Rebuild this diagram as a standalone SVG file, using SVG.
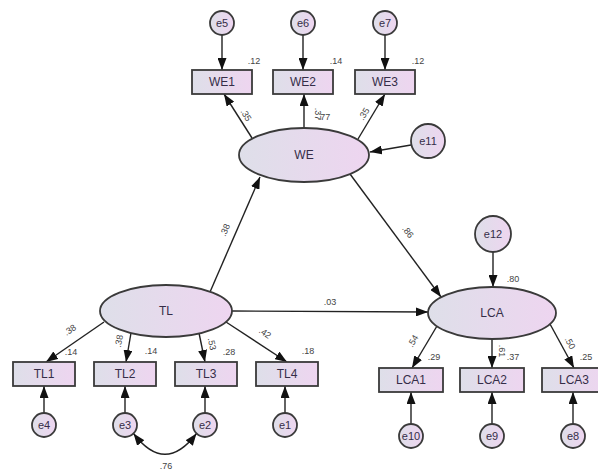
<svg xmlns="http://www.w3.org/2000/svg" width="598" height="472" viewBox="0 0 598 472">
<defs>
<linearGradient id="g" x1="0" y1="0" x2="1" y2="0">
<stop offset="0" stop-color="#dedfe9"/>
<stop offset="1" stop-color="#eed5f0"/>
</linearGradient>
<marker id="ah" markerUnits="userSpaceOnUse" markerWidth="12" markerHeight="9" refX="12" refY="4.5" orient="auto-start-reverse">
<path d="M0,0 L12,4.5 L0,9 z" fill="#111"/>
</marker>
<style>
.n{fill:url(#g);stroke:#3a3a3a;stroke-width:1.8}
.t{font-family:"Liberation Sans",Arial,sans-serif;font-size:12px;fill:#352d48;text-anchor:middle;dominant-baseline:central}
.te{font-family:"Liberation Sans",Arial,sans-serif;font-size:11px;fill:#352d48;text-anchor:middle;dominant-baseline:central}
.l{font-family:"Liberation Sans",Arial,sans-serif;font-size:9px;fill:#444;text-anchor:middle;dominant-baseline:central}
.c{fill:none;stroke:#222;stroke-width:1.4;marker-end:url(#ah)}
</style>
</defs>
<rect width="598" height="472" fill="#fff"/>
<g id="connectors">
<line class="c" x1="222" y1="35" x2="222" y2="70"/>
<line class="c" x1="303" y1="35" x2="303" y2="70"/>
<line class="c" x1="385" y1="35" x2="385" y2="70"/>
<line class="c" x1="252" y1="138" x2="224" y2="94"/>
<line class="c" x1="304" y1="128" x2="304" y2="94"/>
<line class="c" x1="358" y1="139" x2="385" y2="94"/>
<line class="c" x1="411" y1="145" x2="370" y2="152"/>
<line class="c" x1="210" y1="292" x2="260" y2="177"/>
<line class="c" x1="350" y1="174" x2="441" y2="297"/>
<line class="c" x1="232" y1="311" x2="428" y2="312"/>
<line class="c" x1="493" y1="252" x2="493" y2="287"/>
<line class="c" x1="104" y1="322" x2="46" y2="362"/>
<line class="c" x1="131" y1="333" x2="126" y2="362"/>
<line class="c" x1="199" y1="333" x2="205" y2="362"/>
<line class="c" x1="226" y1="322" x2="287" y2="362"/>
<line class="c" x1="437" y1="326" x2="412" y2="368"/>
<line class="c" x1="492" y1="339" x2="492" y2="368"/>
<line class="c" x1="550" y1="324" x2="574" y2="368"/>
<line class="c" x1="44" y1="413" x2="44" y2="386"/>
<line class="c" x1="125" y1="413" x2="125" y2="386"/>
<line class="c" x1="205" y1="413" x2="205" y2="386"/>
<line class="c" x1="285" y1="413" x2="285" y2="386"/>
<line class="c" x1="411" y1="424" x2="411" y2="392"/>
<line class="c" x1="492" y1="424" x2="492" y2="392"/>
<line class="c" x1="573" y1="424" x2="573" y2="392"/>
<path class="c" d="M133.5,433.5 Q165,475 196.5,433.5" style="marker-start:url(#ah)"/>
</g>
<g id="labels">
<text class="l" x="254" y="61">.12</text>
<text class="l" x="336" y="61">.14</text>
<text class="l" x="418" y="61">.12</text>
<text class="l" transform="translate(246,115) rotate(58)">.35</text>
<text class="l" transform="translate(318,114) rotate(90)">.37</text>
<text class="l" x="324" y="117">.77</text>
<text class="l" transform="translate(364,114) rotate(-58)">.35</text>
<text class="l" transform="translate(225,230) rotate(-66)">.38</text>
<text class="l" transform="translate(408,232) rotate(53)">.86</text>
<text class="l" x="330" y="302">.03</text>
<text class="l" x="513" y="279">.80</text>
<text class="l" transform="translate(70,330) rotate(-35)">.38</text>
<text class="l" x="71" y="352">.14</text>
<text class="l" transform="translate(119,341) rotate(-80)">.38</text>
<text class="l" x="151" y="351">.14</text>
<text class="l" transform="translate(212,344) rotate(78)">.53</text>
<text class="l" x="229" y="352">.28</text>
<text class="l" transform="translate(265,333) rotate(34)">.42</text>
<text class="l" x="308" y="351">.18</text>
<text class="l" transform="translate(413,341) rotate(-60)">.54</text>
<text class="l" x="434" y="357">.29</text>
<text class="l" transform="translate(502,351) rotate(90)">.61</text>
<text class="l" x="513" y="357">.37</text>
<text class="l" transform="translate(570,343) rotate(62)">.50</text>
<text class="l" x="586" y="357">.25</text>
<text class="l" x="166" y="466">.76</text>
</g>
<g id="e5"><circle class="n" cx="222" cy="23" r="12"/><text class="te" x="222" y="23">e5</text></g>
<g id="e6"><circle class="n" cx="303" cy="23" r="12"/><text class="te" x="303" y="23">e6</text></g>
<g id="e7"><circle class="n" cx="385" cy="23" r="12"/><text class="te" x="385" y="23">e7</text></g>
<g id="WE1"><rect class="n" x="192" y="70" width="60" height="24"/><text class="t" x="222" y="82">WE1</text></g>
<g id="WE2"><rect class="n" x="273" y="70" width="60" height="24"/><text class="t" x="303" y="82">WE2</text></g>
<g id="WE3"><rect class="n" x="355" y="70" width="60" height="24"/><text class="t" x="385" y="82">WE3</text></g>
<g id="WE"><ellipse class="n" cx="304" cy="155" rx="65" ry="27"/><text class="t" x="304" y="155">WE</text></g>
<g id="e11"><circle class="n" cx="428" cy="141" r="17"/><text class="te" x="428" y="141">e11</text></g>
<g id="TL"><ellipse class="n" cx="166" cy="311" rx="66" ry="26"/><text class="t" x="166" y="311">TL</text></g>
<g id="LCA"><ellipse class="n" cx="492" cy="313" rx="64" ry="26"/><text class="t" x="492" y="313">LCA</text></g>
<g id="e12"><circle class="n" cx="493" cy="234" r="18"/><text class="te" x="493" y="234">e12</text></g>
<g id="TL1"><rect class="n" x="13" y="362" width="62" height="24"/><text class="t" x="44" y="374">TL1</text></g>
<g id="TL2"><rect class="n" x="94" y="362" width="62" height="24"/><text class="t" x="125" y="374">TL2</text></g>
<g id="TL3"><rect class="n" x="175" y="362" width="62" height="24"/><text class="t" x="206" y="374">TL3</text></g>
<g id="TL4"><rect class="n" x="256" y="362" width="62" height="24"/><text class="t" x="287" y="374">TL4</text></g>
<g id="LCA1"><rect class="n" x="379" y="368" width="64" height="24"/><text class="t" x="411" y="380">LCA1</text></g>
<g id="LCA2"><rect class="n" x="460" y="368" width="64" height="24"/><text class="t" x="492" y="380">LCA2</text></g>
<g id="LCA3"><rect class="n" x="542" y="368" width="64" height="24"/><text class="t" x="574" y="380">LCA3</text></g>
<g id="e4"><circle class="n" cx="44" cy="425" r="12"/><text class="te" x="44" y="425">e4</text></g>
<g id="e3"><circle class="n" cx="125" cy="425" r="12"/><text class="te" x="125" y="425">e3</text></g>
<g id="e2"><circle class="n" cx="205" cy="425" r="12"/><text class="te" x="205" y="425">e2</text></g>
<g id="e1"><circle class="n" cx="285" cy="425" r="12"/><text class="te" x="285" y="425">e1</text></g>
<g id="e10"><circle class="n" cx="411" cy="436" r="12"/><text class="te" x="411" y="436">e10</text></g>
<g id="e9"><circle class="n" cx="492" cy="436" r="12"/><text class="te" x="492" y="436">e9</text></g>
<g id="e8"><circle class="n" cx="573" cy="436" r="12"/><text class="te" x="573" y="436">e8</text></g>
</svg>
